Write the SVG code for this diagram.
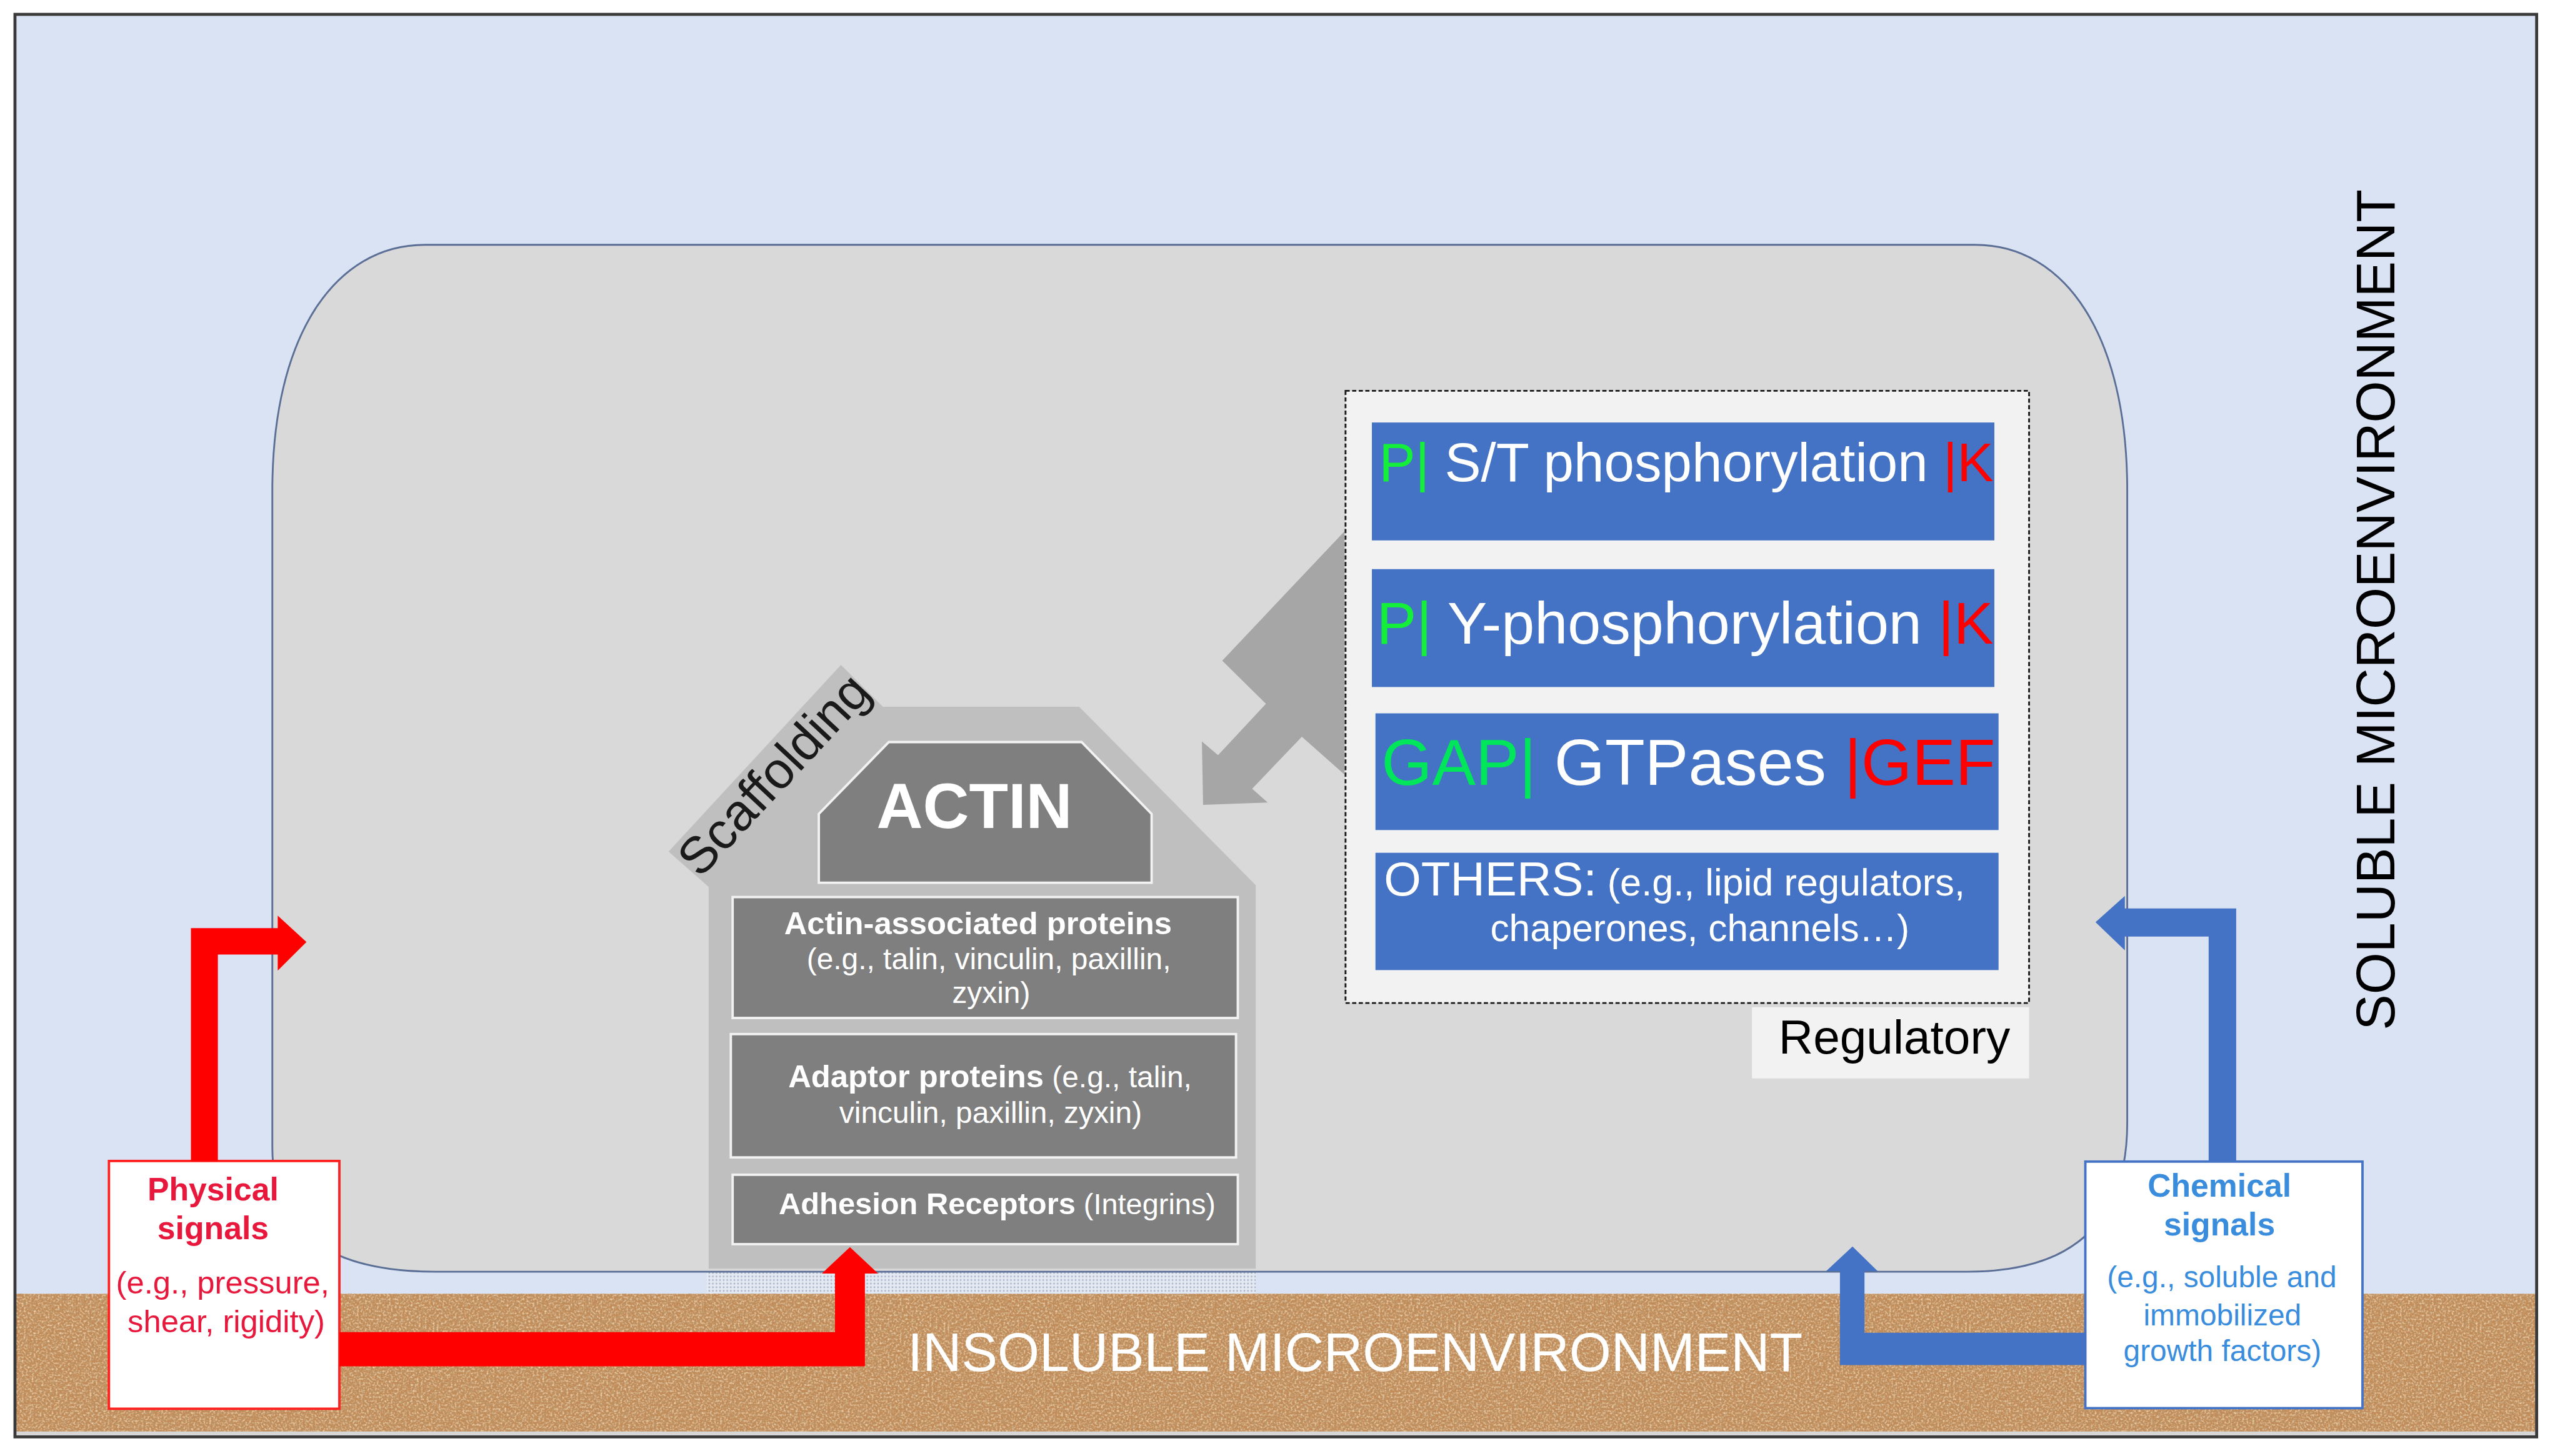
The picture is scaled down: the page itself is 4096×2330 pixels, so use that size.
<svg xmlns="http://www.w3.org/2000/svg" width="4096" height="2330" viewBox="0 0 4096 2330">
<defs>
<style>
.t{font-family:"Liberation Sans",Arial,sans-serif}
.b{font-weight:bold}
.w{fill:#ffffff}
.gbox{fill:#7f7f7f;stroke:#f2f2f2;stroke-width:4}
.row{fill:#4472c4}
.gr{fill:#14f03a}
.rd{fill:#ff0000}
.red{fill:#ff0000}
.blue{fill:#4472c4}
</style>
<filter id="sand" x="0" y="0" width="100%" height="100%">
<feTurbulence type="fractalNoise" baseFrequency="0.22" numOctaves="3" seed="7" result="n"/>
<feColorMatrix in="n" type="matrix" values="0 0 0 0 0.50  0 0 0 0 0.32  0 0 0 0 0.16  2.6 0 0 0 -1.15"/>
</filter>
<filter id="sand2" x="0" y="0" width="100%" height="100%">
<feTurbulence type="fractalNoise" baseFrequency="0.3" numOctaves="2" seed="21" result="n"/>
<feColorMatrix in="n" type="matrix" values="0 0 0 0 0.88  0 0 0 0 0.68  0 0 0 0 0.46  0 2.4 0 0 -1.1"/>
</filter>
<pattern id="dots" width="6" height="6" patternUnits="userSpaceOnUse">
<rect width="6" height="6" fill="#e4e9f2"/>
<circle cx="3" cy="3" r="1.4" fill="#a3b0c6"/>
</pattern>
</defs>
<g transform="scale(0.95768)">
<g id="background">
<rect x="25" y="24" width="4213" height="2377" fill="#dae3f3"/>
<rect x="25" y="2162" width="4213" height="239" fill="#c08b58"/>
<rect x="25" y="2162" width="4213" height="239" fill="#000" filter="url(#sand)"/>
<rect x="25" y="2162" width="4213" height="239" fill="#000" filter="url(#sand2)"/>
<rect x="25" y="2392" width="4213" height="9" fill="#d6d6d6"/>
<rect x="25" y="24" width="4213" height="2377" fill="none" stroke="#3a3a3a" stroke-width="5"/>
<rect x="1180" y="2125" width="918" height="36" fill="url(#dots)"/>
</g>
<g id="cell">
<path d="M710,409 H3300 C3450,409 3554,560 3554,820 V1876 Q3554,2125 3286,2125 H727 Q455,2125 455,1917 V820 C455,560 560,409 710,409 Z" fill="#d9d9d9" stroke="#5a6e96" stroke-width="3"/>
</g>
<g id="soluble-label">
<text class="t" x="0" y="0" font-size="90" text-anchor="middle" fill="#000" transform="translate(4000,1019) rotate(-90)">SOLUBLE MICROENVIRONMENT</text>
</g>
<g id="insoluble-label">
<text class="t w" x="2264" y="2291" font-size="90" text-anchor="middle">INSOLUBLE MICROENVIRONMENT</text>
</g>
<g id="scaffolding">
<polygon points="1117,1423 1405,1111 1475,1181 1803,1181 2098,1479 2098,2120 1184,2120 1184,1482" fill="#bfbfbf"/>
<text class="t" x="0" y="0" font-size="86" fill="#1a1a1a" text-anchor="middle" transform="translate(1314,1314) rotate(-47)">Scaffolding</text>
</g>
<g id="actin">
<polygon points="1485,1240 1807,1240 1924,1360 1924,1475 1368,1475 1368,1360" fill="#7f7f7f" stroke="#f2f2f2" stroke-width="4"/>
<text class="t b w" x="1628" y="1384" font-size="107" text-anchor="middle">ACTIN</text>
</g>
<g id="actin-associated">
<rect class="gbox" x="1224" y="1499" width="844" height="202"/>
<text class="t w" text-anchor="middle" font-size="50"><tspan class="b" x="1634" y="1561" font-size="53">Actin-associated proteins</tspan><tspan x="1652" y="1620">(e.g., talin, vinculin, paxillin,</tspan><tspan x="1656" y="1676">zyxin)</tspan></text>
</g>
<g id="adaptor">
<rect class="gbox" x="1221" y="1728" width="844" height="206"/>
<text class="t w" text-anchor="middle" font-size="50"><tspan x="1654" y="1817"><tspan class="b" font-size="53">Adaptor proteins</tspan> (e.g., talin,</tspan><tspan x="1655" y="1876">vinculin, paxillin, zyxin)</tspan></text>
</g>
<g id="adhesion">
<rect class="gbox" x="1224" y="1963" width="844" height="116"/>
<text class="t w" x="1666" y="2029" text-anchor="middle" font-size="49"><tspan class="b" font-size="51">Adhesion Receptors</tspan> (Integrins)</text>
</g>
<g id="regulatory">
<rect x="2248" y="653" width="1142" height="1023" fill="#f2f2f2" stroke="#1a1a1a" stroke-width="3" stroke-dasharray="7,4"/>
<rect x="2927" y="1683" width="463" height="119" fill="#f2f2f2"/>
<text class="t" x="3165" y="1760" font-size="80" text-anchor="middle" fill="#000">Regulatory</text>
</g>
<g id="st-phosphorylation">
<rect class="row" x="2292" y="706" width="1040" height="197"/>
<text class="t" x="2304" y="804" font-size="91"><tspan class="gr">P|</tspan><tspan class="w"> S/T phosphorylation </tspan><tspan class="rd">|K</tspan></text>
</g>
<g id="y-phosphorylation">
<rect class="row" x="2292" y="951" width="1040" height="197"/>
<text class="t" x="2300" y="1075" font-size="99.5"><tspan class="gr">P|</tspan><tspan class="w"> Y-phosphorylation </tspan><tspan class="rd">|K</tspan></text>
</g>
<g id="gtpases">
<rect class="row" x="2298" y="1192" width="1041" height="195"/>
<text class="t" x="2308" y="1312" font-size="109"><tspan fill="#00e65a">GAP|</tspan><tspan class="w"> GTPases </tspan><tspan class="rd">|GEF</tspan></text>
</g>
<g id="others">
<rect class="row" x="2298" y="1425" width="1041" height="196"/>
<text class="t w" x="2312" y="1496" font-size="80">OTHERS:<tspan font-size="64"> (e.g., lipid regulators,</tspan></text>
<text class="t w" x="2840" y="1573" font-size="63" text-anchor="middle">chaperones, channels…)</text>
</g>
<g id="physical-signals">
<rect x="182" y="1940" width="385" height="414" fill="#ffffff" stroke="#ff2020" stroke-width="4"/>
<text class="t" text-anchor="middle" fill="#e8173c"><tspan class="b" x="356" y="2006" font-size="54">Physical</tspan><tspan class="b" x="356" y="2071" font-size="54">signals</tspan><tspan x="372" y="2161" font-size="53">(e.g., pressure,</tspan><tspan x="378" y="2226" font-size="53">shear, rigidity)</tspan></text>
</g>
<g id="chemical-signals">
<rect x="3484" y="1941" width="463" height="412" fill="#ffffff" stroke="#4472c4" stroke-width="4"/>
<text class="t" text-anchor="middle" fill="#3a8ddc"><tspan class="b" x="3708" y="2000" font-size="54">Chemical</tspan><tspan class="b" x="3708" y="2064" font-size="54">signals</tspan><tspan x="3712" y="2151" font-size="50">(e.g., soluble and</tspan><tspan x="3713" y="2215" font-size="50">immobilized</tspan><tspan x="3713" y="2274" font-size="50">growth factors)</tspan></text>
</g>
<g id="connectors">
<polygon class="red" points="319,1940 319,1551 464,1551 464,1530 512,1574 464,1622 464,1595 364,1595 364,1940"/>
<polygon class="red" points="567,2226 1395,2226 1395,2128 1373,2128 1420,2084 1467,2128 1445,2128 1445,2283 567,2283"/>
<polygon class="blue" points="3736,1941 3736,1518 3550,1518 3550,1497 3501,1541 3550,1588 3550,1565 3690,1565 3690,1941"/>
<polygon class="blue" points="3484,2227 3115,2227 3115,2124 3137,2124 3095,2083 3051,2124 3074,2124 3074,2281 3484,2281"/>
<polygon fill="#a6a6a6" points="2246,888 2042,1104 2115,1176 2035,1262 2008,1239 2010,1345 2118,1341 2092,1318 2175,1231 2246,1294"/>
</g>
</g>
</svg>
